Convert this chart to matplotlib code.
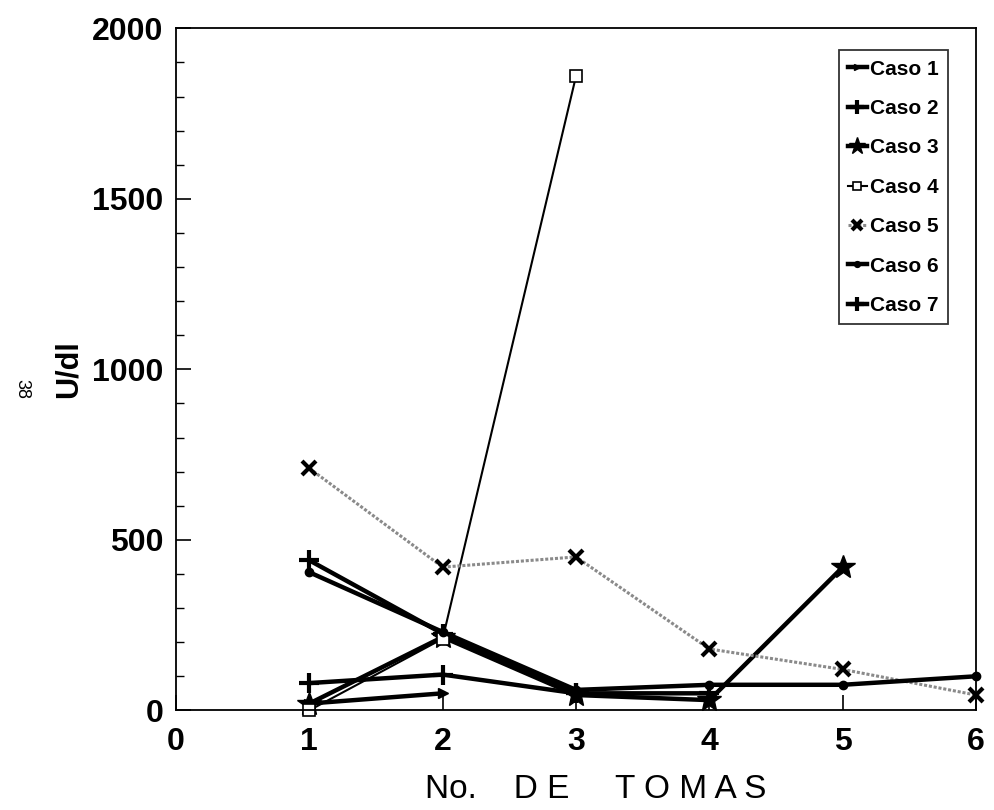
import matplotlib
matplotlib.use("Agg")
import matplotlib.pyplot as plt
from matplotlib import font_manager
from matplotlib.ticker import MultipleLocator

names = {f.name for f in font_manager.fontManager.ttflist}
FONT = "Liberation Sans Narrow" if "Liberation Sans Narrow" in names else "Liberation Sans"
plt.rcParams['font.family'] = [FONT, 'DejaVu Sans']

# ---- data ----
caso1_x = [1, 2]
caso1_y = [20, 50]
caso2_x = [1, 2, 3, 4]
caso2_y = [440, 225, 50, 50]
caso3_x = [1, 2, 3, 4, 5]
caso3_y = [20, 215, 45, 30, 420]
caso4_x = [1, 2, 3]
caso4_y = [0, 210, 1860]
caso5_x = [1, 2, 3, 4, 5, 6]
caso5_y = [710, 420, 450, 180, 120, 45]
caso6_x = [1, 2, 3, 4, 5, 6]
caso6_y = [405, 230, 60, 75, 75, 100]
caso7_x = [1, 2, 3]
caso7_y = [80, 105, 50]

labels = ["Caso 1", "Caso 2", "Caso 3", "Caso 4", "Caso 5", "Caso 6", "Caso 7"]
x_ticks = [0, 1, 2, 3, 4, 5, 6]
y_ticks = [0, 500, 1000, 1500, 2000]

fig = plt.figure(figsize=(9.94, 8.10), dpi=100)
ax = fig.add_axes([0.177, 0.123, 0.805, 0.842])

k = dict(color="black", lw=3.2, clip_on=False)
ax.plot(caso1_x, caso1_y, marker=">", ms=7, label=labels[0], **k)
ax.plot(caso2_x, caso2_y, marker="+", ms=14, mew=3, label=labels[1], **k)
ax.plot(caso3_x, caso3_y, marker="*", ms=18, label=labels[2], **k)
ax.plot(caso4_x, caso4_y, marker="s", ms=9, mfc="white", mew=1.2, color="black",
        lw=1.5, label=labels[3], clip_on=False)
ax.plot(caso5_x, caso5_y, marker="x", ms=10, mew=3, mec="black", color="#8a8a8a",
        lw=2.2, ls=(0, (1, 0.6)), label=labels[4], clip_on=False)
ax.plot(caso6_x, caso6_y, marker="o", ms=6, label=labels[5], **k)
ax.plot(caso7_x, caso7_y, marker="+", ms=14, mew=3, label=labels[6], **k)

ax.set_xlim(0, 6)
ax.set_ylim(0, 2000)
ax.set_xticks(x_ticks)
ax.set_yticks(y_ticks)
ax.yaxis.set_minor_locator(MultipleLocator(100))
ax.tick_params(axis="both", which="major", direction="in", length=11, width=1.2,
               labelsize=23, top=False, right=False)
ax.tick_params(axis="y", which="minor", direction="in", length=6, width=1, right=False)
ax.tick_params(axis="x", pad=12)
ax.tick_params(axis="y", pad=9)
for lab in ax.get_xticklabels() + ax.get_yticklabels():
    lab.set_fontweight("bold")
for s in ax.spines.values():
    s.set_linewidth(1.3)

ax.set_ylabel("U/dl", fontsize=22, fontweight="bold", labelpad=6)
ax.set_xlabel("No.    D E     T O M A S", fontsize=24, labelpad=12)
ax.xaxis.label.set_x(0.525)

leg = ax.legend(loc="upper right", bbox_to_anchor=(0.965, 0.968), borderaxespad=0,
                frameon=True, fancybox=False, edgecolor="black", fontsize=15,
                handlelength=0.9, handletextpad=0.15, borderpad=0.45,
                labelspacing=0.98, markerscale=0.7)
leg.get_frame().set_linewidth(1.3)
for t in leg.get_texts():
    t.set_fontweight("bold")

fig.text(0.022, 0.52, "38", rotation=-90, fontsize=13, ha="center", va="center")

fig.savefig("out.png", dpi=100)
